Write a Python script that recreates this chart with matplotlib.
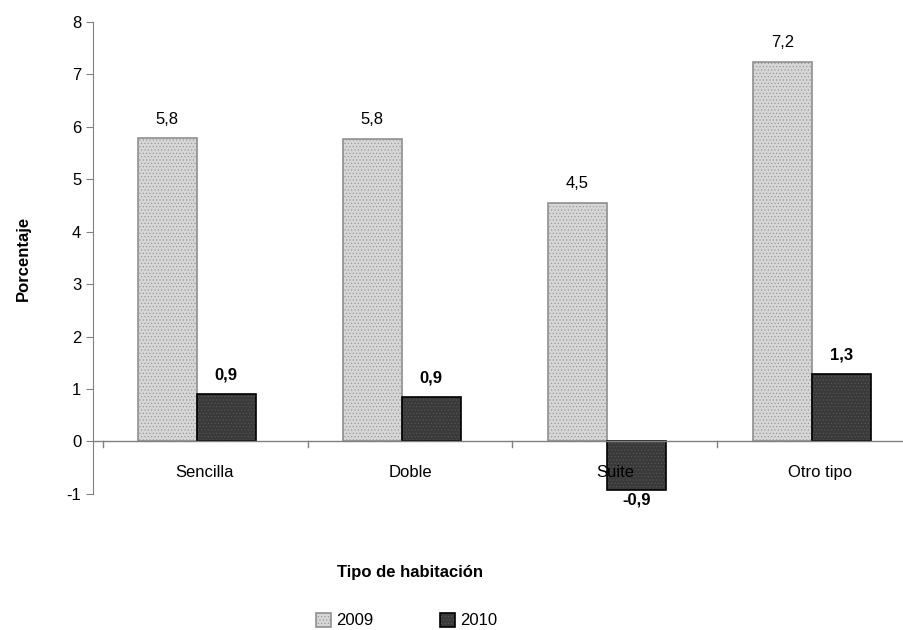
import matplotlib
matplotlib.use("Agg")
import matplotlib.pyplot as plt
import numpy as np

categories = ["Sencilla", "Doble", "Suite", "Otro tipo"]
v2009 = [5.78, 5.77, 4.55, 7.24]
v2010 = [0.9, 0.85, -0.92, 1.28]
lab2009 = ["5,8", "5,8", "4,5", "7,2"]
lab2010 = ["0,9", "0,9", "-0,9", "1,3"]

plt.rcParams['font.family'] = ['Liberation Sans', 'DejaVu Sans']
plt.rcParams['hatch.linewidth'] = 0.4
plt.rcParams['axes.unicode_minus'] = False
fig = plt.figure(figsize=(9.04, 6.3), dpi=100)
ax = fig.add_axes([0.103, 0.216, 0.897, 0.749])
x = np.arange(len(categories))
w = 0.288
off = -0.04
plt.rcParams['hatch.color'] = '#a0a0a0'
b1 = ax.bar(x + off - w/2, v2009, w, color='#d6d6d6', edgecolor='#909090', hatch='.....', linewidth=1.2, label='2009')
b2 = ax.bar(x + off + w/2, v2010, w, color='#3a3a3a', edgecolor='black', hatch='.....', linewidth=1.2, label='2010')
for b in b2:
    b._hatch_color = (0.35, 0.35, 0.35, 1)
for i in range(len(x)):
    ax.text(x[i] + off - w/2, v2009[i] + 0.22, lab2009[i], ha='center', va='bottom', fontsize=12)
    if v2010[i] >= 0:
        ax.text(x[i] + off + w/2, v2010[i] + 0.22, lab2010[i], ha='center', va='bottom', fontsize=12, fontweight='bold')
    else:
        ax.text(x[i] + off + w/2, v2010[i] - 0.05, lab2010[i], ha='center', va='top', fontsize=12, fontweight='bold')
    ax.text(x[i], -0.6, categories[i], ha='center', va='center', fontsize=12)
ax.set_ylim(-1, 8)
ax.set_xlim(-0.546, 3.41)
ax.set_yticks(range(-1, 9))
ax.tick_params(axis='y', labelsize=12, length=5, direction='out', colors='black')
ax.tick_params(axis='y', color='#808080')
ax.set_xticks([])
ax.axhline(0, color='#808080', lw=1)
for xv in [-0.5, 0.5, 1.5, 2.5, 3.5]:
    ax.plot([xv, xv], [0, -0.1], color='#808080', lw=1)
for s in ['top', 'right', 'bottom']:
    ax.spines[s].set_visible(False)
ax.spines['left'].set_color('#808080')
ax.set_ylabel('Porcentaje', fontsize=12, fontweight='bold', labelpad=26)
fig.text(0.453, 0.084, 'Tipo de habitación', ha='center', fontsize=12, fontweight='bold')
fig.legend(handles=[b1, b2], loc='center', bbox_to_anchor=(0.45, 0.015), ncol=2, frameon=False,
           fontsize=12, handlelength=0.9, handleheight=0.9, columnspacing=4, handletextpad=0.3)
fig.savefig('out.png', dpi=100)
